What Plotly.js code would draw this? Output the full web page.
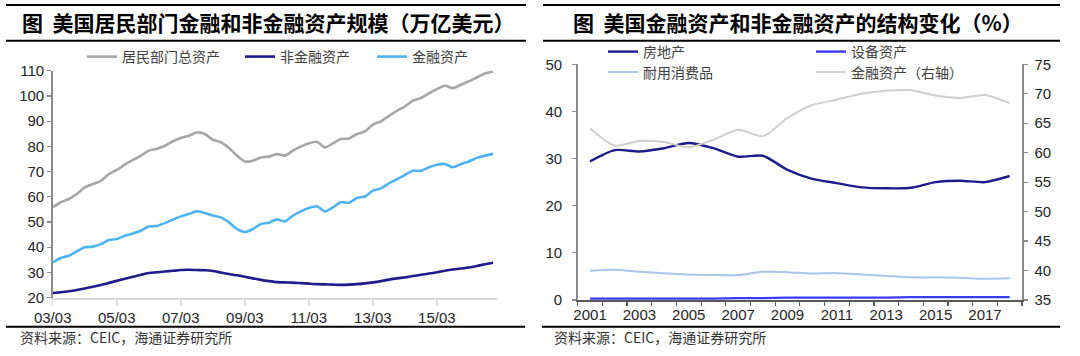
<!DOCTYPE html>
<html><head><meta charset="utf-8">
<script src="https://cdn.plot.ly/plotly-3.0.1.min.js"></script>
<style>html,body{margin:0;padding:0;background:#fff}#chart{width:1080px;height:356px}</style>
</head><body><div id="chart"></div>
<script>
// ---- Left chart data (trillion USD, quarterly) ----
const quarters = [
'2003-03-01','2003-06-01','2003-09-01','2003-12-01','2004-03-01','2004-06-01','2004-09-01','2004-12-01',
'2005-03-01','2005-06-01','2005-09-01','2005-12-01','2006-03-01','2006-06-01','2006-09-01','2006-12-01',
'2007-03-01','2007-06-01','2007-09-01','2007-12-01','2008-03-01','2008-06-01','2008-09-01','2008-12-01',
'2009-03-01','2009-06-01','2009-09-01','2009-12-01','2010-03-01','2010-06-01','2010-09-01','2010-12-01',
'2011-03-01','2011-06-01','2011-09-01','2011-12-01','2012-03-01','2012-06-01','2012-09-01','2012-12-01',
'2013-03-01','2013-06-01','2013-09-01','2013-12-01','2014-03-01','2014-06-01','2014-09-01','2014-12-01',
'2015-03-01','2015-06-01','2015-09-01','2015-12-01','2016-03-01','2016-06-01','2016-09-01','2016-12-01'];
const totalAssets = [55.8,57.8,59.1,61.1,63.7,65.0,66.3,69.0,70.6,72.7,74.6,76.3,78.3,79.0,80.2,82.0,83.3,84.2,85.5,84.9,82.6,81.6,79.3,76.3,74.0,74.3,75.6,75.9,76.9,76.3,78.3,79.9,81.2,81.8,79.6,81.2,82.9,83.1,84.9,85.9,88.6,89.9,92.1,94.1,95.8,98.1,99.2,101.0,102.7,104.0,103.1,104.4,105.8,107.4,108.9,109.7];
const nonFinancialAssets = [21.8,22.1,22.5,23.0,23.6,24.3,25.0,25.8,26.6,27.4,28.2,29.0,29.7,30.0,30.3,30.6,30.9,31.0,30.9,30.8,30.5,29.9,29.3,28.8,28.2,27.6,27.0,26.5,26.1,26.0,25.9,25.7,25.5,25.3,25.2,25.1,25.0,25.1,25.3,25.6,26.0,26.5,27.1,27.6,28.0,28.5,29.0,29.5,30.0,30.6,31.1,31.5,31.9,32.5,33.2,33.8];
const financialAssets = [33.9,35.7,36.6,38.3,39.9,40.2,41.2,42.8,43.2,44.5,45.4,46.5,48.2,48.4,49.5,50.9,52.2,53.1,54.2,53.5,52.5,51.8,49.8,47.2,46.0,47.2,49.2,49.7,51.0,50.2,52.5,54.2,55.5,56.2,54.2,55.8,57.8,57.6,59.5,60.1,62.4,63.3,65.3,67.0,68.6,70.3,70.3,71.7,72.7,73.0,71.7,73.0,74.0,75.4,76.3,77.0];
const leftTickVals = ['2003-03-01','2005-03-01','2007-03-01','2009-03-01','2011-03-01','2013-03-01','2015-03-01'];
const leftTickText = ['03/03','05/03','07/03','09/03','11/03','13/03','15/03'];

// ---- Right chart data (% share, annual) ----
const years = [2001,2002,2003,2004,2005,2006,2007,2008,2009,2010,2011,2012,2013,2014,2015,2016,2017,2018];
const realEstateShare = [29.4,31.8,31.5,32.2,33.3,32.2,30.4,30.6,27.6,25.7,24.8,23.9,23.7,23.8,25.0,25.3,25.0,26.3];
const equipmentShare = [0.3,0.3,0.3,0.3,0.3,0.3,0.4,0.4,0.5,0.5,0.5,0.5,0.5,0.6,0.6,0.6,0.6,0.6];
const durableGoodsShare = [6.2,6.4,6.0,5.7,5.4,5.3,5.3,6.0,5.9,5.6,5.7,5.4,5.1,4.8,4.8,4.7,4.5,4.6];
const financialShare = [64.1,61.2,62.0,61.8,60.9,62.2,63.9,62.8,65.9,68.1,69.0,70.0,70.5,70.6,69.7,69.3,69.8,68.4];
const rightTickVals = [2001,2003,2005,2007,2009,2011,2013,2015,2017];

const W = 1080, H = 356;
const px = v => v / W;
const py = v => 1 - v / H;
const tickFont = {family: 'Liberation Sans, Arial, sans-serif', size: 15, color: '#262626'};
const cjk = 'Noto Sans CJK SC, sans-serif';
const legFont = {family: cjk, size: 14, color: '#404040'};

function ln(x, y, name, color, width, xa, ya, leg) {
  return {x: x, y: y, name: name, type: 'scatter', mode: 'lines',
    line: {color: color, width: width, shape: 'spline', smoothing: 0.7},
    xaxis: xa, yaxis: ya, legend: leg, hoverinfo: 'skip'};
}

const data = [
  ln(quarters, totalAssets, '居民部门总资产', '#A6A6A6', 2.6, 'x', 'y', 'legend'),
  ln(quarters, nonFinancialAssets, '非金融资产', '#201C8C', 2.6, 'x', 'y', 'legend2'),
  ln(quarters, financialAssets, '金融资产', '#4FB3F2', 2.6, 'x', 'y', 'legend3'),
  ln(years, realEstateShare, '房地产', '#1E1B8A', 2.4, 'x2', 'y2', 'legend4'),
  ln(years, equipmentShare, '设备资产', '#3B3BF5', 2.4, 'x2', 'y2', 'legend5'),
  ln(years, durableGoodsShare, '耐用消费品', '#A9C6EA', 2.0, 'x2', 'y2', 'legend6'),
  ln(years, financialShare, '金融资产（右轴）', '#CFCFCF', 2.0, 'x2', 'y3', 'legend7')
];

function leg(x, y) {
  return {x: px(x), y: py(y), xanchor: 'left', yanchor: 'middle', orientation: 'h',
    font: legFont, bgcolor: 'rgba(0,0,0,0)', borderwidth: 0};
}

function hline(x0, x1, y) {
  return {type: 'line', xref: 'paper', yref: 'paper', x0: px(x0), x1: px(x1), y0: py(y), y1: py(y),
    line: {color: '#000', width: 2}};
}

function note(x, y, text, size, bold) {
  return {xref: 'paper', yref: 'paper', x: px(x), y: py(y), xanchor: 'left', yanchor: 'middle',
    text: bold ? '<b>' + text + '</b>' : text, showarrow: false,
    font: {family: cjk, size: size, color: bold ? '#000' : '#333'}};
}

const layout = {
  width: W, height: H, margin: {l: 0, r: 0, t: 0, b: 0},
  paper_bgcolor: '#fff', plot_bgcolor: '#fff', showlegend: true,
  xaxis: {domain: [px(52.7), px(497)], type: 'date', range: ['2003-03-01', '2017-01-15'],
    tickmode: 'array', tickvals: leftTickVals, ticktext: leftTickText,
    ticks: 'outside', ticklen: 5, tickwidth: 1.5, tickcolor: '#D9D9D9',
    showline: true, linecolor: '#D9D9D9', linewidth: 2, showgrid: false, zeroline: false,
    tickfont: tickFont, anchor: 'y', fixedrange: true},
  yaxis: {domain: [py(297.5), py(70.7)], range: [20, 110], tickmode: 'linear', tick0: 20, dtick: 10,
    ticks: 'outside', ticklen: 4, tickwidth: 1.2, tickcolor: '#8C8C8C',
    showline: true, linecolor: '#8C8C8C', linewidth: 1.5, showgrid: false, zeroline: false,
    tickfont: tickFont, anchor: 'x', fixedrange: true},
  xaxis2: {domain: [px(577.7), px(1022)], range: [2000.5, 2018.5],
    tickmode: 'array', tickvals: rightTickVals, ticks: '',
    minor: {tickmode: 'linear', tick0: 2000.5, dtick: 1, ticks: 'outside', ticklen: 4, tickwidth: 1.2, tickcolor: '#595959'},
    showline: true, linecolor: '#595959', linewidth: 1.5, showgrid: false, zeroline: false,
    tickfont: tickFont, anchor: 'y2', fixedrange: true},
  yaxis2: {domain: [py(300), py(64.3)], range: [0, 50], tickmode: 'linear', tick0: 0, dtick: 10,
    ticks: 'outside', ticklen: 4, tickwidth: 1.2, tickcolor: '#8C8C8C', ticklabelstandoff: 7,
    showline: true, linecolor: '#8C8C8C', linewidth: 1.5, showgrid: false, zeroline: false,
    tickfont: tickFont, anchor: 'x2', fixedrange: true},
  yaxis3: {overlaying: 'y2', side: 'right', range: [35, 75], tickmode: 'linear', tick0: 35, dtick: 5,
    ticks: 'outside', ticklen: 4, tickwidth: 1.2, tickcolor: '#8C8C8C', ticklabelstandoff: 4,
    showline: true, linecolor: '#8C8C8C', linewidth: 1.5, showgrid: false, zeroline: false,
    tickfont: tickFont, anchor: 'x2', fixedrange: true},
  legend: leg(82, 57),
  legend2: leg(240, 57),
  legend3: leg(372, 57),
  legend4: leg(603, 52),
  legend5: leg(811, 52),
  legend6: leg(603, 72.5),
  legend7: leg(811, 72.5),
  shapes: [
    hline(6, 526, 5), hline(6, 526, 40.7), hline(6, 525, 326.7),
    hline(543, 1060, 5), hline(543, 1060, 40.7), hline(542, 1060, 326.7)
  ],
  annotations: [
    note(20, 22.5, '图\u00a0\u00a0美国居民部门金融和非金融资产规模（万亿美元）', 21, true),
    note(571, 22.5, '图\u00a0\u00a0美国金融资产和非金融资产的结构变化（%）', 21, true),
    note(18, 337, '资料来源：CEIC，海通证券研究所', 14, false),
    note(552, 337, '资料来源：CEIC，海通证券研究所', 14, false)
  ]
};

Plotly.newPlot('chart', data, layout, {staticPlot: true, displayModeBar: false});
</script></body></html>
